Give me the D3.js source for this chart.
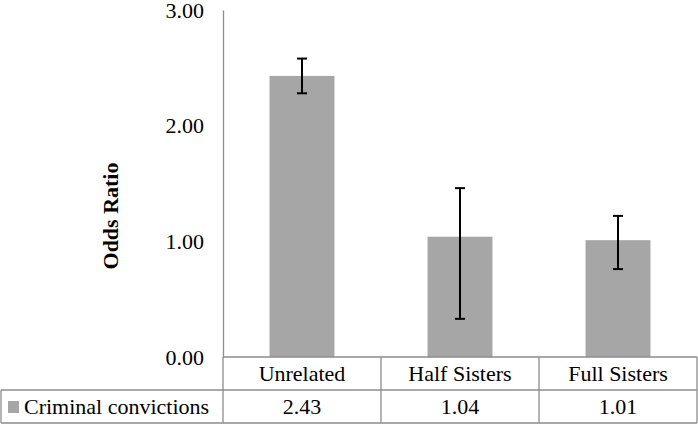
<!DOCTYPE html>
<html><head><meta charset="utf-8">
<script src="https://cdn.jsdelivr.net/npm/d3@7"></script>
<style>body{margin:0;background:#fff}svg{display:block}svg text{font-family:"Liberation Serif","Times New Roman",serif;fill:#000}</style>
</head><body><svg id="c" width="698" height="425"></svg>
<script>
const categories = ["Unrelated", "Half Sisters", "Full Sisters"];
const seriesName = "Criminal convictions";
const values = [2.43, 1.04, 1.01];
const valueLabels = ["2.43", "1.04", "1.01"];
const errLow = [2.28, 0.33, 0.76];
const errHigh = [2.58, 1.46, 1.22];
const yTicks = [0, 1, 2, 3];

(function(){
const svg = d3.select("#c");
const pLeft = 223, pRight = 697, pTop = 10, pBase = 357;
const rowMid = 390, pBottom = 423;
const gray = "#8c8c8c";
const FF = '"Liberation Serif","Times New Roman",serif';

const x = d3.scaleBand().domain(categories).range([pLeft, pRight]).paddingInner(0.589).paddingOuter(0.2945);
const y = d3.scaleLinear().domain([0, 3]).range([pBase, pTop]);

// bars
svg.selectAll("rect.bar").data(values).join("rect").attr("class","bar")
  .attr("x", (d,i)=>x(categories[i])).attr("width", x.bandwidth())
  .attr("y", d=>y(d)).attr("height", d=>y(0)-y(d)).attr("fill","#a6a6a6");

// error bars
const eg = svg.append("g").attr("stroke","#000").attr("stroke-width",2);
categories.forEach((c,i)=>{
  const cx = Math.round(x(c)+x.bandwidth()/2);
  eg.append("line").attr("x1",cx).attr("x2",cx).attr("y1",y(errLow[i])).attr("y2",y(errHigh[i]));
  eg.append("line").attr("x1",cx-5).attr("x2",cx+5).attr("y1",y(errLow[i])).attr("y2",y(errLow[i]));
  eg.append("line").attr("x1",cx-5).attr("x2",cx+5).attr("y1",y(errHigh[i])).attr("y2",y(errHigh[i]));
});

// y axis
const ya = svg.append("g").attr("transform",`translate(${pLeft},0)`)
  .call(d3.axisLeft(y).tickValues(yTicks).tickFormat(d3.format(".2f")).tickSize(0).tickPadding(19));
ya.attr("font-family",FF).attr("font-size",22);
ya.select(".domain").attr("stroke",gray).attr("stroke-width",1.3);
ya.selectAll("text").attr("font-size",22).attr("font-family",FF);

svg.append("text").attr("transform","translate(118,216) rotate(-90)").attr("text-anchor","middle")
  .attr("font-family",FF).attr("font-size",22).attr("font-weight","bold").text("Odds Ratio");

// table
const tg = svg.append("g").attr("stroke",gray).attr("stroke-width",1.3).attr("fill","none");
tg.append("line").attr("x1",pLeft).attr("x2",pRight).attr("y1",pBase).attr("y2",pBase);
tg.append("line").attr("x1",1).attr("x2",pRight).attr("y1",rowMid).attr("y2",rowMid);
tg.append("line").attr("x1",1).attr("x2",pRight).attr("y1",pBottom).attr("y2",pBottom);
tg.append("line").attr("x1",1).attr("x2",1).attr("y1",rowMid).attr("y2",pBottom);
const cols = categories.map(c=>x(c)-x.step()*x.paddingInner()/2);
cols.forEach(cx=>tg.append("line").attr("x1",cx).attr("x2",cx).attr("y1",pBase).attr("y2",pBottom));
tg.append("line").attr("x1",pRight).attr("x2",pRight).attr("y1",pBase).attr("y2",pBottom);

categories.forEach((c,i)=>{
  const cx = x(c)+x.bandwidth()/2;
  svg.append("text").attr("x",cx).attr("y",(pBase+rowMid)/2).attr("dy","0.35em").attr("text-anchor","middle").attr("font-family",FF).attr("font-size",22).text(c);
  svg.append("text").attr("x",cx).attr("y",(rowMid+pBottom)/2).attr("dy","0.35em").attr("text-anchor","middle").attr("font-family",FF).attr("font-size",22).text(valueLabels[i]);
});
svg.append("rect").attr("x",8).attr("y",401).attr("width",11).attr("height",12).attr("fill","#a6a6a6");
svg.append("text").attr("x",24).attr("y",(rowMid+pBottom)/2).attr("dy","0.35em").attr("font-family",FF).attr("font-size",22).text(seriesName);
})();
</script></body></html>
